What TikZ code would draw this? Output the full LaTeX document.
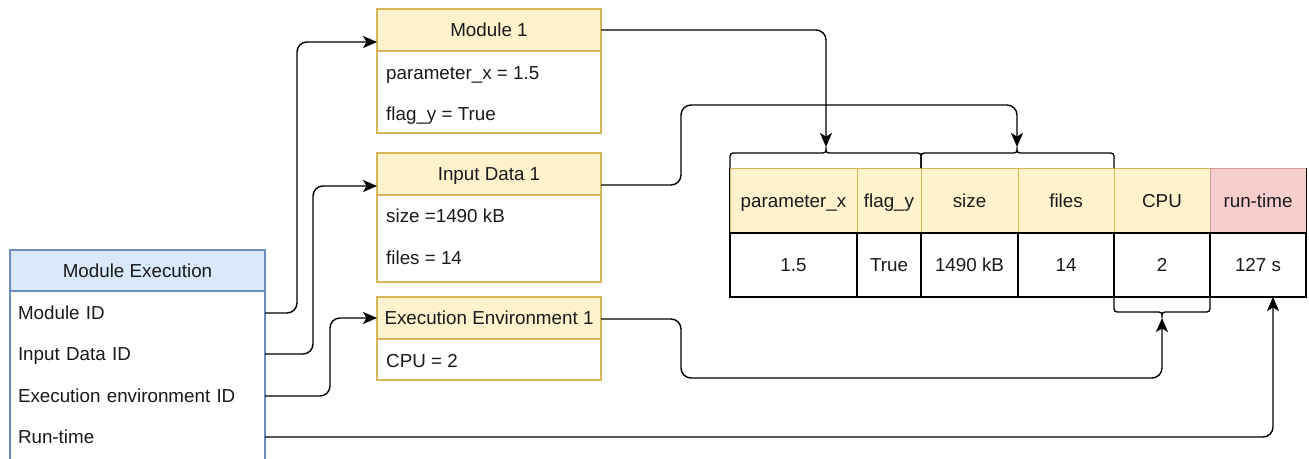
\documentclass[tikz,border=0pt]{standalone}
\usepackage{fontspec}
\setmainfont{Liberation Sans}
\usetikzlibrary{arrows.meta}
\definecolor{blueF}{HTML}{DAE8FC}
\definecolor{blueD}{HTML}{6C8EBF}
\definecolor{yelF}{HTML}{FFF2CC}
\definecolor{yelD}{HTML}{D6B656}
\definecolor{redF}{HTML}{F8CECC}
\definecolor{redD}{HTML}{B85450}
\definecolor{txt}{HTML}{1A1A1A}
\tikzset{
  every node/.style={text=txt, text height=13.5pt, text depth=0pt},
  hdr/.style={draw=yelD, fill=yelF, line width=1.2pt, minimum width=224pt, minimum height=42pt, inner sep=0pt},
  bodybox/.style={draw=yelD, fill=white, line width=1.2pt, minimum width=224pt, inner sep=0pt},
  rowtxt/.style={anchor=west, inner sep=0pt},
  merow/.style={minimum width=255pt, text width=239pt, align=left, inner xsep=8pt, inner ysep=0pt},
  th/.style={draw=yelD, fill=yelF, line width=1pt, minimum height=65pt, inner sep=0pt},
  thr/.style={draw=redD!60, fill=redF, line width=1pt, minimum height=65pt, inner sep=0pt},
  td/.style={draw=black, line width=1.2pt, minimum height=64pt, inner sep=0pt},
  arr/.style={draw=black, line width=1.4pt, rounded corners=10pt},
  tip/.style={-{Stealth[length=14pt,width=12pt,inset=3.5pt]}},
  brace/.style={draw=black, line width=1.3pt},
}
\begin{document}
\begin{tikzpicture}[x=1pt,y=-1pt,font=\fontsize{18.8}{22}\selectfont]
\clip (0,0) rectangle (1309,458);
\fill[white] (0,0) rectangle (1309,458);

% Module Execution
\node[draw=blueD, fill=blueF, line width=1.2pt, minimum width=255pt, minimum height=41pt, inner sep=0pt] (meh) at (137.5,270.5) {Module Execution};
\node[draw=blueD, line width=1.2pt, minimum width=255pt, minimum height=179pt, inner sep=0pt] (meb) at (137.5,380.5) {};
\node[merow] (rMod) at (137.5,313) {Module ID};
\node[merow] (rInp) at (137.5,354) {Input Data ID};
\node[merow] (rEnv) at (137.5,396) {Execution environment ID};
\node[merow] (rRun) at (137.5,437) {Run-time};

% Module 1
\node[hdr] (m1h) at (489,30) {Module 1};
\node[bodybox, minimum height=82pt] (m1b) at (489,92) {};
\node[rowtxt] (m1p) at (386,73) {parameter\_x = 1.5};
\node[rowtxt] (m1f) at (386,114) {flag\_y = True};

% Input Data 1
\node[hdr] (i1h) at (489,174) {Input Data 1};
\node[bodybox, minimum height=87pt] (i1b) at (489,238.5) {};
\node[rowtxt] (i1s) at (386,216) {size =1490 kB};
\node[rowtxt] (i1f) at (386,258) {files = 14};

% Execution Environment 1
\node[hdr] (e1h) at (489,318) {Execution Environment 1};
\node[bodybox, minimum height=41pt] (e1b) at (489,359.5) {};
\node[rowtxt] (e1c) at (386,361) {CPU = 2};

% Table header
\node[th, minimum width=127pt] (hPar) at (793.5,200.5) {parameter\_x};
\node[th, minimum width=64pt] (hFlag) at (889,200.5) {flag\_y};
\node[th, minimum width=97pt] (hSize) at (969.5,200.5) {size};
\node[th, minimum width=96pt] (hFiles) at (1066,200.5) {files};
\node[th, minimum width=96pt] (hCPU) at (1162,200.5) {CPU};
\node[thr, minimum width=96pt] (hRun) at (1258,200.5) {run-time};
% Table body
\node[td, minimum width=127pt] (vPar) at (793.5,265) {1.5};
\node[td, minimum width=64pt] (vFlag) at (889,265) {True};
\node[td, minimum width=97pt] (vSize) at (969.5,265) {1490 kB};
\node[td, minimum width=96pt] (vFiles) at (1066,265) {14};
\node[td, minimum width=96pt] (vCPU) at (1162,265) {2};
\node[td, minimum width=96pt] (vRun) at (1258,265) {127 s};
\draw[line width=1.2pt] (hPar.north west) -- (hPar.south west);
\draw[line width=1.2pt] (hRun.north east) -- (hRun.south east);

% Braces
\draw[brace] (730,168) -- (730,160) .. controls (730,153) .. (737,153) -- (819,153)
  .. controls (826,153) .. (826,147) .. controls (826,153) .. (833,153) -- (914,153)
  .. controls (921,153) .. (921,160) -- (921,168);
\draw[brace] (921,168) -- (921,160) .. controls (921,153) .. (928,153) -- (1010,153)
  .. controls (1017,153) .. (1017,147) .. controls (1017,153) .. (1024,153) -- (1107,153)
  .. controls (1114,153) .. (1114,160) -- (1114,168);
\draw[brace] (1114,297) -- (1114,305) .. controls (1114,312) .. (1121,312) -- (1155,312)
  .. controls (1162,312) .. (1162,318) .. controls (1162,312) .. (1169,312) -- (1203,312)
  .. controls (1210,312) .. (1210,305) -- (1210,297);

% connector end points
\coordinate (m1in) at (377,42);
\coordinate (i1in) at (377,186);
\coordinate (e1in) at (377,318);
\coordinate (m1out) at (601,30);
\coordinate (i1out) at (601,185);
\coordinate (e1out) at (601,319);
\coordinate (braceA) at (826,147);
\coordinate (braceB) at (1017,147);
\coordinate (braceC) at (1162,318);
\coordinate (runin) at (1273,297);

% Connectors
\draw[arr, tip] (rMod.east) -- (297,313) |- (m1in);
\draw[arr, tip] (rInp.east) -- (313,354) |- (i1in);
\draw[arr, tip] (rEnv.east) -- (330,396) |- (e1in);
\draw[arr, tip] (rRun.east) -| (runin);
\draw[arr, tip] (m1out) -| (braceA);
\draw[arr, tip] (i1out) -- (681,185) -- (681,105) -| (braceB);
\draw[arr, tip] (e1out) -- (681,319) -- (681,378) -| (braceC);
\end{tikzpicture}
\end{document}
